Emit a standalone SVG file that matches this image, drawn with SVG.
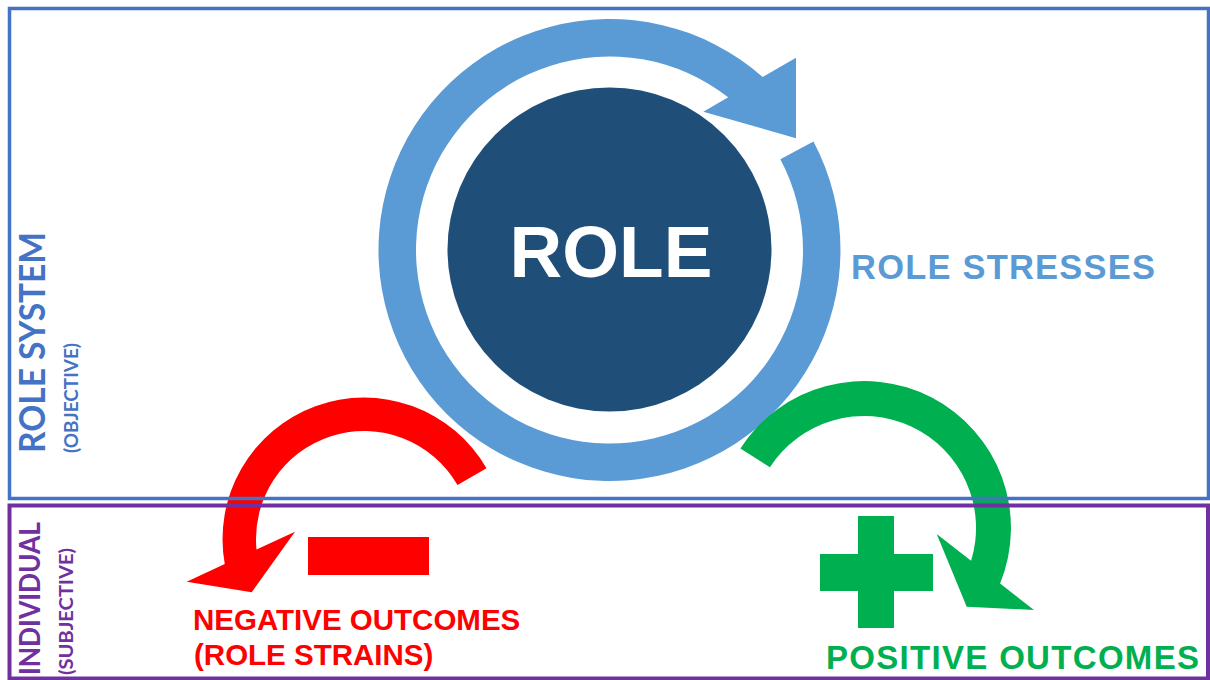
<svg xmlns="http://www.w3.org/2000/svg" width="1210" height="680" viewBox="0 0 1210 680">
  <style>
    .hdr { font-family: "Liberation Sans", Arial, sans-serif; font-weight: 700; }
    .side { font-family: Lato, "Open Sans", sans-serif; font-weight: 700; }
    .frame { fill: none; }
  </style>
  <rect width="1210" height="680" fill="#ffffff"/>

  <!-- central role node with its cycle of stresses -->
  <g id="role-cycle">
    <path fill="#5B9BD5" d="M 813.46 141.55 A 231 231 0 1 1 762.7 77.1 L 796 57.7 L 796 138.3 L 703.3 111.7 L 728.2 97.2 A 193.5 193.5 0 1 0 780.35 159.16 Z"/>
  </g>
  <g id="role">
    <circle cx="609.5" cy="249.5" r="162" fill="#1F4E79"/>
    <text class="hdr" x="611" y="277" font-size="73" fill="#ffffff" text-anchor="middle">ROLE</text>
  </g>
  <g id="role-stresses">
    <text class="hdr" x="851" y="279" font-size="34.5" fill="#5B9BD5" textLength="304" lengthAdjust="spacing">ROLE STRESSES</text>
  </g>

  <!-- outcome arrows -->
  <g id="connectors">
    <path id="negative-arrow" fill="#FF0000" d="M 486.5 468.25 A 141.5 141.5 0 0 0 224.75 564.1 L 186.7 581.7 L 251.7 592.3 L 295 531.7 L 256.5 549.5 A 108 108 0 0 1 457.5 485 Z"/>
    <path id="positive-arrow" fill="#00B050" d="M 740.4 448.4 A 147 147 0 0 1 1000.1 583.5 L 1034 610 L 966.7 606.7 L 936.7 534 L 971.1 560.85 A 112 112 0 0 0 769.9 467.3 Z"/>
  </g>

  <g id="negative-outcomes">
    <rect x="308" y="537" width="121" height="38" fill="#FF0000"/>
    <text class="hdr" x="193" y="629.5" font-size="29.5" fill="#FF0000">NEGATIVE OUTCOMES</text>
    <text class="hdr" x="194" y="665" font-size="29.5" fill="#FF0000">(ROLE STRAINS)</text>
  </g>

  <g id="positive-outcomes">
    <rect x="858" y="516" width="36" height="112" fill="#00B050"/>
    <rect x="820" y="554" width="113" height="37" fill="#00B050"/>
    <text class="hdr" x="826" y="668.5" font-size="33" fill="#00B050" textLength="373" lengthAdjust="spacing">POSITIVE OUTCOMES</text>
  </g>

  <!-- level frames -->
  <g id="role-system">
    <rect class="frame" x="9.5" y="8.5" width="1199" height="490" stroke="#4472C4" stroke-width="3.5"/>
    <text class="side" transform="translate(45,453) rotate(-90)" font-size="37" fill="#4472C4" textLength="221" lengthAdjust="spacingAndGlyphs">ROLE SYSTEM</text>
    <text class="side" transform="translate(78,453) rotate(-90)" font-size="18.5" fill="#4472C4" textLength="110" lengthAdjust="spacingAndGlyphs">(OBJECTIVE)</text>
  </g>
  <g id="individual">
    <rect class="frame" x="9.5" y="505.5" width="1198.5" height="173" stroke="#7030A0" stroke-width="4"/>
    <text class="side" transform="translate(39.5,675) rotate(-90)" font-size="28" fill="#7030A0" textLength="153" lengthAdjust="spacingAndGlyphs">INDIVIDUAL</text>
    <text class="side" transform="translate(73,675) rotate(-90)" font-size="18.5" fill="#7030A0" textLength="127" lengthAdjust="spacingAndGlyphs">(SUBJECTIVE)</text>
  </g>
</svg>
